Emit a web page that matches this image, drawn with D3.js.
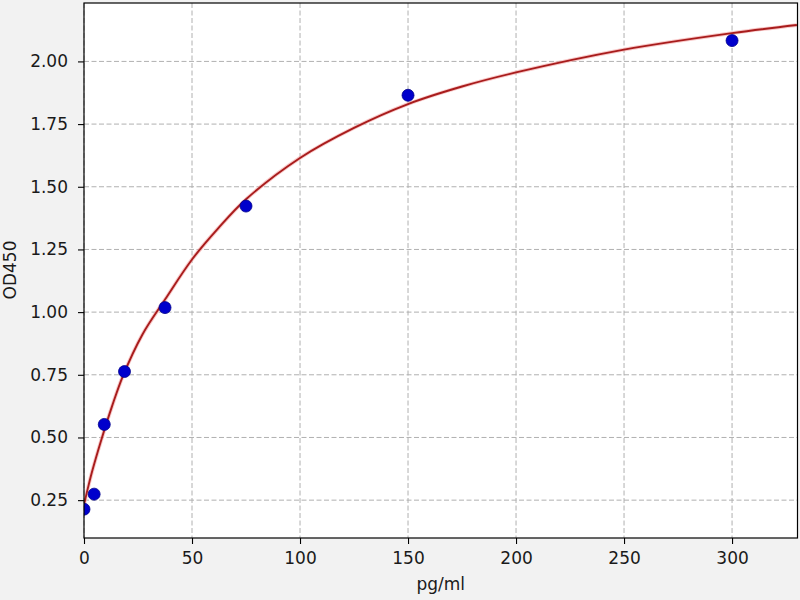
<!DOCTYPE html>
<html>
<head>
<meta charset="utf-8">
<script src="https://cdn.jsdelivr.net/npm/d3@7"></script>
<style>
  body { margin: 0; background: #f2f2f2; }
  svg { display: block; font-family: "DejaVu Sans", sans-serif; }
  .grid line { stroke: #b0b0b0; stroke-width: 1; stroke-dasharray: 5, 2.5; }
  .axis text { font-size: 17px; fill: #1a1a1a; }
  .axis path, .axis line { stroke: #000; stroke-width: 1.1; }
</style>
</head>
<body>
<svg id="chart" width="800" height="600"></svg>
<script>
/* ==== Data ==== */
// standards: concentration (pg/ml) and measured OD450
var concentrations = [0, 4.69, 9.38, 18.75, 37.5, 75, 150, 300];
var odValues = [0.214, 0.274, 0.552, 0.763, 1.018, 1.423, 1.865, 2.083];

// fitted curve
var curveX = [0, 2, 4, 8, 13, 18, 27, 37.5, 50, 62, 75, 100, 125, 150, 175, 200, 250, 300, 330];
var curveY = [0.232, 0.305, 0.372, 0.49, 0.625, 0.745, 0.91, 1.05, 1.21, 1.333, 1.45, 1.615, 1.735, 1.83, 1.90, 1.956, 2.047, 2.113, 2.145];

var xTicks = [0, 50, 100, 150, 200, 250, 300];
var yTicks = [0.25, 0.50, 0.75, 1.00, 1.25, 1.50, 1.75, 2.00];

/* ==== Layout ==== */
var LEFT = 84, RIGHT = 797.5, TOP = 3, BOTTOM = 538;

var svg = d3.select("#chart");

var x = d3.scaleLinear().domain([0, 330.3]).range([LEFT, RIGHT]);
var y = d3.scaleLinear().domain([0.099, 2.233]).range([BOTTOM, TOP]);

// plot background + clip
svg.append("rect")
   .attr("x", LEFT).attr("y", TOP)
   .attr("width", RIGHT - LEFT).attr("height", BOTTOM - TOP)
   .attr("fill", "#fff");

svg.append("clipPath").attr("id", "plotClip")
   .append("rect")
   .attr("x", LEFT).attr("y", TOP)
   .attr("width", RIGHT - LEFT).attr("height", BOTTOM - TOP);

/* ==== Grid ==== */
var grid = svg.append("g").attr("class", "grid");
grid.selectAll(".gx").data(xTicks).enter().append("line")
    .attr("x1", d => x(d)).attr("x2", d => x(d))
    .attr("y1", TOP).attr("y2", BOTTOM);
grid.selectAll(".gy").data(yTicks).enter().append("line")
    .attr("x1", LEFT).attr("x2", RIGHT)
    .attr("y1", d => y(d)).attr("y2", d => y(d));

var plot = svg.append("g").attr("clip-path", "url(#plotClip)");

/* ==== Curve ==== */
var curvePts = curveX.map((d, i) => [d, curveY[i]]);
var line = d3.line().x(d => x(d[0])).y(d => y(d[1])).curve(d3.curveCatmullRom.alpha(0.5));

plot.append("path")
   .datum(curvePts)
   .attr("d", line)
   .attr("fill", "none")
   .attr("stroke", "#f3a3a3")
   .attr("stroke-width", 3.8)
   .attr("opacity", 0.6);

plot.append("path")
   .datum(curvePts)
   .attr("d", line)
   .attr("fill", "none")
   .attr("stroke", "#a81c1c")
   .attr("stroke-width", 1.9);

/* ==== Points ==== */
plot.append("g")
   .selectAll("circle")
   .data(concentrations)
   .enter()
   .append("circle")
   .attr("cx", d => x(d))
   .attr("cy", (d, i) => y(odValues[i]))
   .attr("r", 6)
   .attr("fill", "#0000cc")
   .attr("stroke", "#00008b")
   .attr("stroke-width", 0.8);

/* ==== Frame ==== */
svg.append("rect")
   .attr("x", LEFT).attr("y", TOP)
   .attr("width", RIGHT - LEFT).attr("height", BOTTOM - TOP)
   .attr("fill", "none")
   .attr("stroke", "#000")
   .attr("stroke-width", 1.2);

/* ==== Axes ==== */
var xAxis = svg.append("g")
   .attr("class", "axis")
   .attr("transform", "translate(0," + BOTTOM + ")")
   .call(d3.axisBottom(x).tickValues(xTicks).tickSize(6).tickPadding(8).tickFormat(d3.format("d")));
xAxis.select(".domain").remove();

var yAxis = svg.append("g")
   .attr("class", "axis")
   .attr("transform", "translate(" + LEFT + ",0)")
   .call(d3.axisLeft(y).tickValues(yTicks).tickSize(6).tickPadding(10).tickFormat(d3.format(".2f")));
yAxis.select(".domain").remove();

svg.selectAll(".axis text").attr("font-family", "DejaVu Sans, sans-serif");

/* ==== Labels ==== */
svg.append("text")
   .attr("x", (LEFT + RIGHT) / 2)
   .attr("y", 590)
   .attr("text-anchor", "middle")
   .attr("font-size", "17px")
   .attr("fill", "#1a1a1a")
   .text("pg/ml");

svg.append("text")
   .attr("transform", "translate(15.5,270) rotate(-90)")
   .attr("text-anchor", "middle")
   .attr("font-size", "17px")
   .attr("fill", "#1a1a1a")
   .text("OD450");
</script>
</body>
</html>
